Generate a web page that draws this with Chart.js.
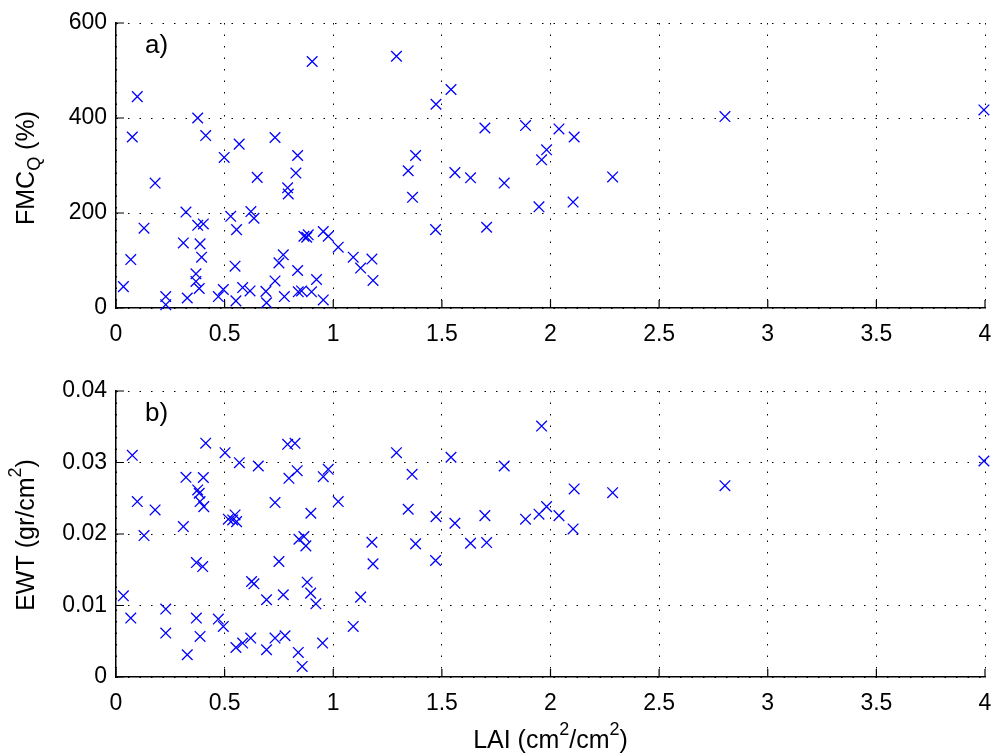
<!DOCTYPE html>
<html>
<head>
<meta charset="utf-8">
<script src="https://cdn.jsdelivr.net/npm/chart.js@4.4.0/dist/chart.umd.min.js"></script>
<style>
  body { margin: 0; background: #fff; }
  #wrap { position: relative; width: 995px; height: 756px; }
  canvas { position: absolute; left: 0; }
</style>
</head>
<body>
<div id="wrap">
  <canvas id="chart-a" width="995" height="360" style="top:0"></canvas>
  <canvas id="chart-b" width="995" height="396" style="top:360px"></canvas>
</div>
<script>
// panel a) LAI vs FMC_Q
const laiA = [0.034, 0.098, 0.075, 0.18, 0.129, 0.068, 0.229, 0.229, 0.322, 0.31, 0.328,
  0.376, 0.413, 0.376, 0.402, 0.387, 0.394, 0.368, 0.368, 0.383, 0.471, 0.494, 0.498,
  0.567, 0.528, 0.555, 0.548, 0.552, 0.583, 0.617, 0.621, 0.635, 0.65, 0.69, 0.693,
  0.732, 0.732, 0.75, 0.77, 0.775, 0.79, 0.793, 0.828, 0.836, 0.836, 0.839, 0.854,
  0.865, 0.878, 0.885, 0.903, 0.9, 0.923, 0.954, 0.954, 0.977, 1.023, 1.092, 1.126,
  1.178, 1.183, 1.291, 1.379, 1.345, 1.365, 1.473, 1.542, 1.471, 1.56, 1.632, 1.698,
  1.706, 1.787, 1.885, 1.982, 1.959, 1.947, 2.039, 2.109, 2.104, 2.286, 2.803, 3.995];
const fmc = [45, 445, 360, 263, 168, 102, 24, 7, 202, 137, 21,
  400, 363, 174, 177, 135, 107, 72, 56, 41, 24, 39, 317,
  345, 193, 165, 88, 15, 43, 36, 203, 189, 275, 35, 11,
  359, 57, 95, 112, 24, 253, 240, 284, 321, 79, 34, 36,
  151, 149, 154, 519, 34, 60, 17, 161, 151, 128, 107, 84,
  103, 58, 530, 321, 289, 233, 429, 460, 165, 285, 274, 379,
  170, 263, 384, 333, 312, 213, 377, 360, 223, 276, 403, 417];

// panel b) LAI vs EWT
const laiB = [0.034, 0.068, 0.075, 0.098, 0.129, 0.18, 0.229, 0.229, 0.31, 0.322, 0.328,
  0.413, 0.402, 0.376, 0.383, 0.387, 0.404, 0.37, 0.399, 0.37, 0.387,
  0.471, 0.494, 0.502, 0.568, 0.517, 0.548, 0.555, 0.537, 0.552, 0.583, 0.62,
  0.624, 0.635, 0.655, 0.693, 0.693, 0.732, 0.732, 0.75, 0.77, 0.778, 0.79, 0.824,
  0.796, 0.834, 0.839, 0.857, 0.842, 0.865, 0.874, 0.88, 0.897, 0.896, 0.92, 0.951,
  0.954, 0.977, 1.023, 1.092, 1.126, 1.178, 1.183, 1.291, 1.363, 1.345, 1.379, 1.473,
  1.471, 1.542, 1.56, 1.632, 1.698, 1.706, 1.787, 1.885, 1.947, 1.959, 1.982, 2.039,
  2.109, 2.104, 2.286, 2.803, 3.995];
const ewt = [0.01135, 0.00824, 0.0310, 0.02453, 0.01978, 0.02337, 0.0095, 0.00614, 0.02104, 0.02793, 0.00311,
  0.0327, 0.0279, 0.02616, 0.0257, 0.02453, 0.02383, 0.016, 0.01545, 0.00824, 0.00567,
  0.0081, 0.00707, 0.03137, 0.02997, 0.02207, 0.02267, 0.02173, 0.02197, 0.00413, 0.00475, 0.00545,
  0.01336, 0.01303, 0.02951, 0.00381, 0.0108, 0.02439, 0.00545, 0.01615, 0.0115, 0.00577, 0.03254, 0.03268,
  0.02779, 0.02886, 0.00344, 0.00148, 0.01927, 0.01964, 0.01834, 0.01326, 0.0229, 0.01173, 0.01024, 0.00475,
  0.02802, 0.02905, 0.02453, 0.00707, 0.01117, 0.01885, 0.01582, 0.03137, 0.02835, 0.02346, 0.01862, 0.02243,
  0.01629, 0.03073, 0.0215, 0.01871, 0.02257, 0.0188, 0.02951, 0.02207, 0.02277, 0.0351, 0.02383, 0.02257,
  0.0263, 0.02071, 0.02578, 0.02676, 0.03021];

const laiTicks = ['0', '0.5', '1', '1.5', '2', '2.5', '3', '3.5', '4'];
const fmcTicks = ['0', '200', '400', '600'];
const ewtTicks = ['0', '0.01', '0.02', '0.03', '0.04'];

const FONT = '"Liberation Sans", Arial, Helvetica, sans-serif';
const TXT = 23;
const TITLE = 25;

// text with sub/superscript pieces, centred on (x, y)
function richText(ctx, parts, x, y, angle, size) {
  ctx.save();
  ctx.translate(x, y);
  ctx.rotate(angle);
  const fontFor = p => (p[1] ? Math.round(size * 0.72) : size) + 'px ' + FONT;
  let w = 0;
  parts.forEach(p => { ctx.font = fontFor(p); w += ctx.measureText(p[0]).width; });
  let cx = -w / 2;
  ctx.fillStyle = '#000';
  ctx.textAlign = 'left';
  ctx.textBaseline = 'middle';
  parts.forEach(p => {
    ctx.font = fontFor(p);
    const dy = p[1] === 'sup' ? -size * 0.42 : p[1] === 'sub' ? size * 0.34 : 0;
    ctx.fillText(p[0], cx, dy);
    cx += ctx.measureText(p[0]).width;
  });
  ctx.restore();
}

function decor(label, yTitle, yTitleY, xTitle) {
  return {
    id: 'decor',
    afterDraw(chart) {
      const { ctx, chartArea: a, scales: { x, y } } = chart;
      ctx.save();
      // inward ticks like matlab
      ctx.strokeStyle = '#000';
      ctx.lineWidth = 1.2;
      ctx.beginPath();
      x.ticks.forEach(t => {
        const px = x.getPixelForValue(t.value);
        ctx.moveTo(px, a.bottom);
        ctx.lineTo(px, a.bottom - 8);
      });
      y.ticks.forEach(t => {
        const py = y.getPixelForValue(t.value);
        ctx.moveTo(a.left, py);
        ctx.lineTo(a.left + 8, py);
      });
      ctx.stroke();
      ctx.font = '26px ' + FONT;
      ctx.fillStyle = '#000';
      ctx.textAlign = 'left';
      ctx.textBaseline = 'alphabetic';
      ctx.fillText(label, a.left + 29, a.top + 30);
      richText(ctx, yTitle, 27, yTitleY, -Math.PI / 2, TITLE);
      if (xTitle) richText(ctx, xTitle, (a.left + a.right) / 2, a.bottom + 64, 0, TITLE);
      ctx.restore();
    }
  };
}

function makeScales(yMin, yMax, yStep, yLabels, xHeight) {
  const grid = { color: '#000', lineWidth: 1, drawTicks: false };
  const border = { display: true, color: '#000', width: 1.5, dash: [1.5, 10] };
  return {
    x: {
      type: 'linear', min: 0, max: 4,
      ticks: { stepSize: 0.5, padding: 13, color: '#000', font: { family: FONT, size: TXT },
        maxRotation: 0, autoSkip: false, callback: (v, i) => laiTicks[i] },
      grid: grid, border: border,
      afterFit: s => { s.height = xHeight; s.paddingRight = 0; s.paddingLeft = 0; }
    },
    y: {
      type: 'linear', min: yMin, max: yMax,
      ticks: { stepSize: yStep, padding: 9, color: '#000', font: { family: FONT, size: TXT },
        autoSkip: false, callback: (v, i) => yLabels[i] },
      grid: grid, border: border,
      afterFit: s => { s.width = 116; s.paddingTop = 0; s.paddingBottom = 0; }
    }
  };
}

function points(xs, ys) {
  return xs.map((v, i) => ({ x: v, y: ys[i] }));
}

const baseDataset = {
  pointStyle: 'crossRot',
  pointRadius: 7.5,
  pointHoverRadius: 7.5,
  borderColor: '#0000ff',
  backgroundColor: '#0000ff',
  pointBorderWidth: 1.3,
  showLine: false,
  clip: false
};

new Chart(document.getElementById('chart-a').getContext('2d'), {
  type: 'scatter',
  data: { datasets: [Object.assign({ label: 'FMC', data: points(laiA, fmc) }, baseDataset)] },
  options: {
    responsive: false,
    animation: false,
    layout: { autoPadding: false, padding: { top: 23, right: 10, left: 0, bottom: 0 } },
    plugins: { legend: { display: false }, tooltip: { enabled: false } },
    scales: makeScales(0, 600, 200, fmcTicks, 52)
  },
  plugins: [decor('a)', [['FMC'], ['Q', 'sub'], [' (%)']], 168, null)]
});

new Chart(document.getElementById('chart-b').getContext('2d'), {
  type: 'scatter',
  data: { datasets: [Object.assign({ label: 'EWT', data: points(laiB, ewt) }, baseDataset)] },
  options: {
    responsive: false,
    animation: false,
    layout: { autoPadding: false, padding: { top: 31, right: 10, left: 0, bottom: 0 } },
    plugins: { legend: { display: false }, tooltip: { enabled: false } },
    scales: makeScales(0, 0.04, 0.01, ewtTicks, 79)
  },
  plugins: [decor('b)', [['EWT (gr/cm'], ['2', 'sup'], [')']], 175,
    [['LAI (cm'], ['2', 'sup'], ['/cm'], ['2', 'sup'], [')']])]
});
</script>
</body>
</html>
